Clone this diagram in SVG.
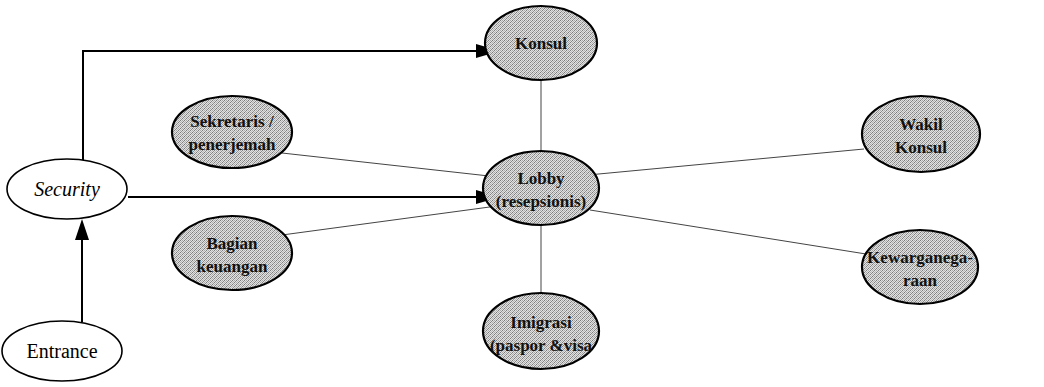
<svg xmlns="http://www.w3.org/2000/svg" width="1044" height="387" viewBox="0 0 1044 387">
<defs>
<pattern id="ht" width="4" height="4" patternUnits="userSpaceOnUse">
<rect width="4" height="4" fill="#e2e2e2"/>
<rect x="0" y="0" width="1" height="1" fill="#7a7a7a"/>
<rect x="2" y="0" width="1" height="1" fill="#a8a8a8"/>
<rect x="1" y="1" width="1" height="1" fill="#b4b4b4"/>
<rect x="3" y="1" width="1" height="1" fill="#888888"/>
<rect x="0" y="2" width="1" height="1" fill="#acacac"/>
<rect x="2" y="2" width="1" height="1" fill="#7e7e7e"/>
<rect x="1" y="3" width="1" height="1" fill="#929292"/>
<rect x="3" y="3" width="1" height="1" fill="#bcbcbc"/>
</pattern>
</defs>
<style>
.sh{fill:url(#ht);stroke:#000;stroke-width:2.2}
.wh{fill:#fff;stroke:#000;stroke-width:1.6}
.t{font-family:'Liberation Serif','DejaVu Serif',serif;font-size:17px;font-weight:bold;text-anchor:middle;fill:#111}
.tw{font-family:'Liberation Serif','DejaVu Serif',serif;font-size:20px;text-anchor:middle;fill:#000}
.thin{stroke:#444;stroke-width:1;fill:none}
.arr{stroke:#000;stroke-width:2;fill:none}
</style>
<g id="connectors">
<line class="thin" x1="541" y1="80" x2="541" y2="152"/>
<line class="thin" x1="282" y1="153" x2="498" y2="177"/>
<line class="thin" x1="864" y1="149" x2="588" y2="175"/>
<line class="thin" x1="282" y1="235" x2="497" y2="206"/>
<line class="thin" x1="866" y1="254" x2="590" y2="210"/>
<line class="thin" x1="541" y1="225" x2="541" y2="293"/>
<polyline class="arr" points="83,160 83,51 480,51"/>
<path d="M476,44 L500,51 L476,58 Z" fill="#000"/>
<line class="arr" x1="128" y1="197" x2="480" y2="197"/>
<path d="M476,190 L500,197 L476,204 Z" fill="#000"/>
<line class="arr" x1="82" y1="322" x2="82" y2="236"/>
<path d="M75,240 L82,219 L89,240 Z" fill="#000"/>
</g>
<g id="konsul"><ellipse class="sh" cx="541" cy="43" rx="56" ry="37"/><text class="t" x="541" y="49">Konsul</text></g>
<g id="sekretaris"><ellipse class="sh" cx="232" cy="132" rx="60" ry="36"/><text class="t" x="232" y="127">Sekretaris /</text><text class="t" x="232" y="150">penerjemah</text></g>
<g id="wakil"><ellipse class="sh" cx="921" cy="134" rx="59" ry="38"/><text class="t" x="921" y="130">Wakil</text><text class="t" x="921" y="153">Konsul</text></g>
<g id="lobby"><ellipse class="sh" cx="541" cy="188" rx="58" ry="37"/><text class="t" x="541" y="184">Lobby</text><text class="t" x="541" y="207">(resepsionis)</text></g>
<g id="bagian"><ellipse class="sh" cx="232" cy="253" rx="60" ry="37"/><text class="t" x="232" y="249">Bagian</text><text class="t" x="232" y="272">keuangan</text></g>
<g id="kewarganegaraan"><ellipse class="sh" cx="920" cy="267" rx="58" ry="37"/><text class="t" x="920" y="263">Kewarganega-</text><text class="t" x="920" y="286">raan</text></g>
<g id="imigrasi"><ellipse class="sh" cx="541" cy="331" rx="58" ry="38"/><text class="t" x="541" y="328">Imigrasi</text><text class="t" x="541" y="351">(paspor &amp;visa</text></g>
<g id="security"><ellipse class="wh" cx="67" cy="189" rx="60" ry="30"/><text class="tw" x="67" y="196" font-style="italic">Security</text></g>
<g id="entrance"><ellipse class="wh" cx="62" cy="351" rx="60" ry="30"/><text class="tw" x="62" y="358">Entrance</text></g>
</svg>
